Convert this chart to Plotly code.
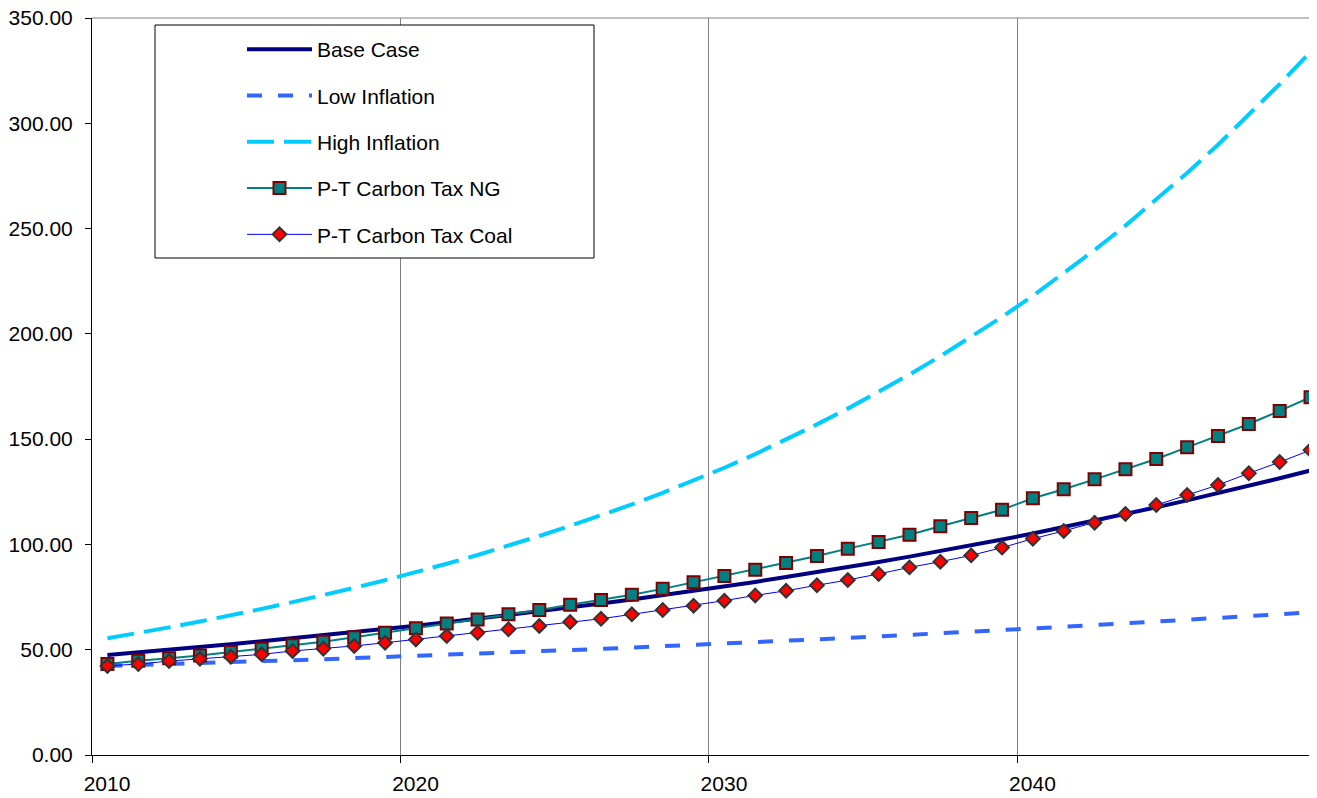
import plotly.graph_objects as go

# ---------------- data ----------------
YEARS = list(range(2010, 2050))

BASE_CASE = [
    47.5, 48.7, 50.0, 51.3, 52.6, 54.0, 55.4, 56.8, 58.3, 59.8,
    61.4, 63.0, 64.7, 66.4, 68.2, 70.0, 71.9, 73.8, 75.8, 77.8,
    80.0, 82.2, 84.5, 86.8, 89.2, 91.7, 94.2, 96.8, 99.5, 102.3,
    105.2, 108.2, 111.3, 114.4, 117.6, 120.9, 124.3, 127.8, 131.4, 135.1,
]
LOW_INFLATION = [
    42.3, 42.7, 43.1, 43.6, 44.0, 44.5, 45.0, 45.5, 46.0, 46.5,
    47.0, 47.5, 48.1, 48.6, 49.2, 49.8, 50.4, 51.0, 51.6, 52.3,
    52.9, 53.6, 54.2, 54.9, 55.6, 56.3, 57.0, 57.7, 58.5, 59.3,
    60.1, 60.9, 61.7, 62.5, 63.3, 64.1, 65.0, 65.9, 66.8, 67.8,
]
HIGH_INFLATION = [
    55.4, 57.9, 60.6, 63.4, 66.3, 69.4, 72.6, 75.9, 79.4, 83.0,
    86.8, 90.8, 95.0, 99.4, 104.0, 108.8, 113.8, 119.0, 124.5, 130.2,
    136.4, 142.9, 149.8, 157.0, 164.5, 172.4, 180.7, 189.4, 198.5, 208.0,
    218.1, 228.7, 239.8, 251.4, 263.6, 276.4, 289.8, 303.9, 318.6, 334.0,
]
PT_CARBON_TAX_NG = [
    43.2, 44.8, 45.9, 47.2, 48.9, 50.5, 52.1, 53.8, 55.9, 58.1,
    60.2, 62.4, 64.4, 66.8, 68.9, 71.4, 73.6, 76.1, 78.9, 82.0,
    85.0, 88.0, 91.2, 94.5, 98.0, 101.2, 104.6, 108.6, 112.6, 116.5,
    121.9, 126.2, 130.9, 135.7, 140.6, 146.1, 151.5, 157.2, 163.4, 169.9,
]
PT_CARBON_TAX_COAL = [
    42.3, 43.2, 44.6, 45.7, 46.7, 47.8, 49.4, 50.5, 51.8, 53.3,
    54.9, 56.5, 58.1, 59.7, 61.3, 63.2, 64.7, 66.8, 68.9, 70.9,
    73.3, 75.8, 78.0, 80.6, 83.1, 86.0, 89.1, 91.8, 94.8, 98.5,
    102.7, 106.4, 110.3, 114.5, 118.7, 123.5, 128.2, 133.8, 139.1, 144.8,
]
X_LABEL_YEARS = [2010, 2020, 2030, 2040]
X_TICK_LABELS = ["2010", "2020", "2030", "2040"]
Y_TICKS = [0, 50, 100, 150, 200, 250, 300, 350]

# ---------------- figure ----------------
FONT = "Arial, 'Liberation Sans', sans-serif"
FS = 21
# the page body has an 8px margin, so the figure is drawn 8px in from the top-left
OFF = 8
W, H = 1317 - OFF, 798 - OFF
ML, MR, MT, MB = 92 - OFF, 0, 18 - OFF, 798 - 755
PW, PH = W - ML - MR, H - MT - MB
X_RANGE = [YEARS[0] - 0.5, 2049.21]
px_per_year = PW / (X_RANGE[1] - X_RANGE[0])


def px_x(sx):
    """screen x pixel -> paper x"""
    return (sx - OFF - ML) / PW


def px_y(sy):
    """screen y pixel -> paper y"""
    return (H - MB - (sy - OFF)) / PH


fig = go.Figure()

fig.add_trace(go.Scatter(
    x=YEARS, y=BASE_CASE, name="Base Case", mode="lines",
    line=dict(color="#000080", width=4), legendgroup="a",
))
fig.add_trace(go.Scatter(
    x=YEARS, y=LOW_INFLATION, name="Low Inflation", mode="lines",
    line=dict(color="#3366FF", width=4, dash="15px,16px"), legendgroup="b",
))
fig.add_trace(go.Scatter(
    x=YEARS, y=HIGH_INFLATION, name="High Inflation", mode="lines",
    line=dict(color="#00CCFF", width=4, dash="27px,10px"), legendgroup="c",
))
fig.add_trace(go.Scatter(
    x=YEARS, y=PT_CARBON_TAX_NG, name="P-T Carbon Tax NG", mode="lines+markers",
    line=dict(color="#008080", width=2),
    marker=dict(symbol="square", size=12, color="#008080",
                line=dict(color="#800000", width=2)),
    legendgroup="d",
))
fig.add_trace(go.Scatter(
    x=YEARS, y=PT_CARBON_TAX_COAL, name="P-T Carbon Tax Coal", mode="lines+markers",
    line=dict(color="#0000FF", width=1),
    marker=dict(symbol="diamond", size=10.5, color="#FF0000",
                line=dict(color="#333333", width=2)),
    legendgroup="e",
))

fig.update_layout(
    width=W, height=H,
    margin=dict(l=ML, r=MR, t=MT, b=MB, pad=0, autoexpand=False),
    paper_bgcolor="white", plot_bgcolor="white",
    font=dict(family=FONT, size=FS, color="black"),
    showlegend=True,
    legend=dict(
        x=px_x(242), y=px_y(29),
        xanchor="left", yanchor="top",
        bgcolor="rgba(0,0,0,0)", borderwidth=0,
        font=dict(family=FONT, size=FS, color="black"),
        tracegroupgap=16, traceorder="grouped", itemwidth=65,
    ),
    xaxis=dict(
        range=X_RANGE, tickmode="array", automargin=False,
        tickvals=[y - 0.5 for y in X_LABEL_YEARS], ticktext=X_TICK_LABELS,
        ticklabelshift=int(round(px_per_year / 2)),
        ticklabeloverflow="allow",
        showgrid=True, gridcolor="#808080", gridwidth=1,
        showline=True, linecolor="black", linewidth=1,
        ticks="outside", ticklen=7, tickcolor="black", tickwidth=1,
        zeroline=False, ticklabelstandoff=3,
        tickfont=dict(family=FONT, size=FS, color="black"),
    ),
    yaxis=dict(
        range=[0, 350], tickmode="array", tickvals=Y_TICKS, tickformat=".2f",
        automargin=False, ticklabeloverflow="allow",
        showgrid=False, showline=True, linecolor="black", linewidth=1,
        ticks="outside", ticklen=6, tickcolor="black", tickwidth=1,
        zeroline=False, ticklabelstandoff=8,
        tickfont=dict(family=FONT, size=FS, color="black"),
    ),
    shapes=[
        dict(type="line", xref="paper", yref="paper", x0=0, x1=1, y0=1, y1=1,
             line=dict(color="#808080", width=1), layer="below"),
        dict(type="rect", xref="paper", yref="paper",
             x0=px_x(155), x1=px_x(594), y0=px_y(258), y1=px_y(25),
             line=dict(color="black", width=1), fillcolor="white", layer="above"),
    ],
)

fig.write_html("out.html")
